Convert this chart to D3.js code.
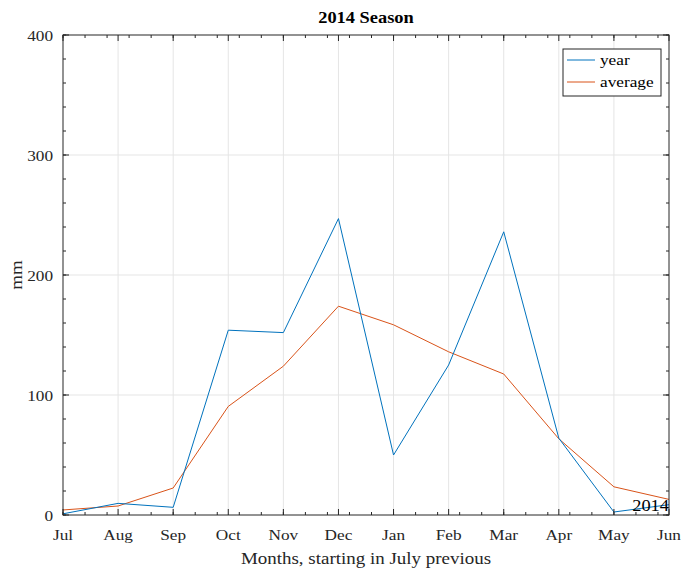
<!DOCTYPE html>
<html>
<head>
<meta charset="utf-8">
<script src="https://cdn.jsdelivr.net/npm/d3@7"></script>
<style>
  body { margin: 0; background: #fff; }
  svg { font-family: "Liberation Serif", "Times New Roman", serif; }
</style>
</head>
<body>
<div id="chart"></div>
<script>
const months = ['Jul', 'Aug', 'Sep', 'Oct', 'Nov', 'Dec', 'Jan', 'Feb', 'Mar', 'Apr', 'May', 'Jun'];
const yearValues = [1, 9.7, 6.4, 154, 152, 247, 50, 125, 236, 64, 2.5, 8.6];
const averageValues = [4.2, 7.5, 22.5, 90.5, 124, 174, 158.5, 136, 117.5, 63.5, 23.5, 13];
const yTicks = [0, 100, 200, 300, 400];

const width = 683;
const height = 575;
const margin = {left: 63, right: 14, top: 35, bottom: 60};
const axisColor = '#262626';
const gridColor = '#e5e5e5';
const yearColor = '#0072BD';
const averageColor = '#D95319';
const stretch = 1.15; // reference glyphs are a bit wider than Times

const svg = d3.select('#chart').append('svg')
  .attr('width', width)
  .attr('height', height);

const x = d3.scaleLinear()
  .domain([0, months.length - 1])
  .range([margin.left, width - margin.right]);

const y = d3.scaleLinear()
  .domain([0, 400])
  .range([height - margin.bottom, margin.top]);

const x0 = x.range()[0], x1 = x.range()[1];
const y0 = y.range()[0], y1 = y.range()[1];

// text helper: positions with a transform so glyphs can be stretched
function label(parent, tx, ty, str, size, anchor, opts = {}) {
  const rot = opts.rotate ? ` rotate(${opts.rotate})` : '';
  return parent.append('text')
    .attr('transform', `translate(${tx}, ${ty})${rot} scale(${stretch}, 1)`)
    .attr('text-anchor', anchor)
    .attr('font-size', size)
    .attr('font-weight', opts.bold ? 'bold' : 'normal')
    .attr('fill', opts.fill || axisColor)
    .text(str);
}

// grid
const grid = svg.append('g');
grid.selectAll('line.gx')
  .data(d3.range(1, months.length - 1))
  .join('line')
  .attr('x1', d => x(d)).attr('x2', d => x(d))
  .attr('y1', y0).attr('y2', y1)
  .attr('stroke', gridColor);
grid.selectAll('line.gy')
  .data(yTicks.slice(1, -1))
  .join('line')
  .attr('x1', x0).attr('x2', x1)
  .attr('y1', d => y(d)).attr('y2', d => y(d))
  .attr('stroke', gridColor);

// lines
const line = (vals) => d3.line()
  .x((d, i) => x(i))
  .y(d => y(d))(vals);

svg.append('path')
  .attr('d', line(averageValues))
  .attr('fill', 'none')
  .attr('stroke', averageColor)
  .attr('stroke-width', 1);

svg.append('path')
  .attr('d', line(yearValues))
  .attr('fill', 'none')
  .attr('stroke', yearColor)
  .attr('stroke-width', 1);

// box and ticks
const ticks = svg.append('g').attr('stroke', axisColor).attr('stroke-width', 1);
ticks.append('rect')
  .attr('x', x0).attr('y', y1)
  .attr('width', x1 - x0).attr('height', y0 - y1)
  .attr('fill', 'none');

const minorX = d3.range(0, months.length - 1 + 0.001, 0.4);
minorX.forEach(v => {
  ticks.append('line').attr('x1', x(v)).attr('x2', x(v)).attr('y1', y0).attr('y2', y0 - 3);
  ticks.append('line').attr('x1', x(v)).attr('x2', x(v)).attr('y1', y1).attr('y2', y1 + 3);
});
months.forEach((m, i) => {
  ticks.append('line').attr('x1', x(i)).attr('x2', x(i)).attr('y1', y0).attr('y2', y0 - 6);
  ticks.append('line').attr('x1', x(i)).attr('x2', x(i)).attr('y1', y1).attr('y2', y1 + 6);
});
d3.range(0, 401, 20).forEach(v => {
  ticks.append('line').attr('x1', x0).attr('x2', x0 + 3).attr('y1', y(v)).attr('y2', y(v));
  ticks.append('line').attr('x1', x1).attr('x2', x1 - 3).attr('y1', y(v)).attr('y2', y(v));
});
yTicks.forEach(v => {
  ticks.append('line').attr('x1', x0).attr('x2', x0 + 6).attr('y1', y(v)).attr('y2', y(v));
  ticks.append('line').attr('x1', x1).attr('x2', x1 - 6).attr('y1', y(v)).attr('y2', y(v));
});

// tick labels
const xLabels = svg.append('g');
months.forEach((m, i) => label(xLabels, x(i), y0 + 25, m, 15, 'middle'));

const yLabels = svg.append('g');
yTicks.forEach(v => label(yLabels, x0 - 10, y(v) + 5.5, v, 15, 'end'));

// labels
label(svg, (x0 + x1) / 2, 22.5, '2014 Season', 16, 'middle', {bold: true, fill: '#000'});
label(svg, (x0 + x1) / 2, y0 + 49, 'Months, starting in July previous', 16.5, 'middle');
label(svg, 22, (y0 + y1) / 2, 'mm', 16.5, 'middle', {rotate: -90});
label(svg, x1, y0 - 4.5, '2014', 16, 'end', {fill: '#000'});

// legend
const legend = svg.append('g').attr('transform', 'translate(563, 49)');
legend.append('rect')
  .attr('width', 98).attr('height', 47)
  .attr('fill', '#fff')
  .attr('stroke', axisColor);
[['year', yearColor], ['average', averageColor]].forEach(([name, color], i) => {
  legend.append('line')
    .attr('x1', 4).attr('x2', 32)
    .attr('y1', 11 + i * 22).attr('y2', 11 + i * 22)
    .attr('stroke', color);
  label(legend, 37, 15.5 + i * 22, name, 15, 'start', {fill: '#000'});
});
</script>
</body>
</html>
